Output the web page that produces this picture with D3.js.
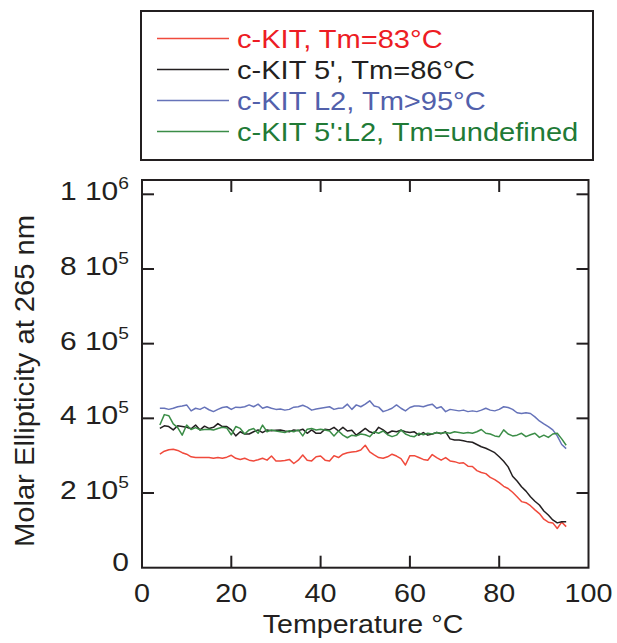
<!DOCTYPE html>
<html lang="en">
<head>
  <meta charset="UTF-8">
  <title>c-KIT melting curves</title>
  <script src="https://d3js.org/d3.v7.min.js"></script>
  <style>
    body { margin: 0; background: #fff; }
    svg { font-family: Arial, "Liberation Sans", sans-serif; }
    .frame { fill: none; stroke: #231f20; stroke-width: 2; }
    .tick-mark { stroke: #231f20; stroke-width: 2; }
    .line { fill: none; stroke-width: 1.5; stroke-linejoin: round; }
  </style>
</head>
<body>
<script>
  // temperature (°C), one reading per degree
  const temps = [4,5,6,7,8,9,10,11,12,13,14,15,16,17,18,19,20,21,22,23,24,25,26,27,28,29,30,
    31,32,33,34,35,36,37,38,39,40,41,42,43,44,45,46,47,48,49,50,51,52,53,54,55,56,57,58,59,60,
    61,62,63,64,65,66,67,68,69,70,71,72,73,74,75,76,77,78,79,80,81,82,83,84,85,86,87,88,89,90,
    91,92,93,94,95];

  // molar ellipticity at 265 nm, in units of 10^5
  const cKit = [3.04,3.12,3.16,3.17,3.14,3.08,3.04,2.97,2.95,2.95,2.95,2.95,2.93,2.95,2.93,2.96,3.01,
    2.93,2.90,2.93,2.88,2.86,2.89,2.93,2.88,2.99,2.86,2.86,2.87,2.90,2.79,2.88,3.02,2.88,2.86,2.97,
    2.99,2.88,2.86,3.00,2.95,3.04,3.08,3.10,3.11,3.15,3.28,3.10,3.02,2.95,2.93,2.97,3.04,2.99,2.92,
    2.75,3.00,3.00,2.95,2.90,2.88,3.03,2.95,2.88,2.95,2.86,2.84,2.80,2.81,2.72,2.71,2.60,2.55,2.52,
    2.42,2.36,2.28,2.18,2.12,2.02,1.90,1.77,1.74,1.66,1.55,1.45,1.30,1.22,1.20,1.05,1.22,1.10];

  const cKit5 = [3.73,3.80,3.78,3.69,3.80,3.78,3.76,3.72,3.82,3.69,3.79,3.73,3.76,3.86,3.78,3.78,3.69,
    3.53,3.64,3.58,3.58,3.64,3.69,3.62,3.69,3.67,3.68,3.69,3.66,3.64,3.69,3.67,3.71,3.60,3.69,3.60,
    3.60,3.71,3.69,3.76,3.66,3.76,3.66,3.68,3.55,3.64,3.73,3.64,3.60,3.76,3.69,3.60,3.66,3.64,3.68,
    3.64,3.62,3.64,3.55,3.62,3.55,3.58,3.62,3.59,3.64,3.45,3.42,3.42,3.40,3.37,3.36,3.30,3.24,3.20,
    3.14,3.08,2.97,2.85,2.70,2.45,2.32,2.17,2.05,1.90,1.78,1.68,1.52,1.41,1.28,1.20,1.23,1.23];

  const cKitL2 = [4.27,4.27,4.24,4.27,4.31,4.33,4.36,4.20,4.27,4.24,4.30,4.23,4.18,4.24,4.29,4.31,4.24,
    4.30,4.29,4.31,4.36,4.31,4.38,4.27,4.31,4.27,4.24,4.25,4.22,4.24,4.30,4.31,4.35,4.30,4.22,4.25,
    4.27,4.29,4.31,4.24,4.27,4.28,4.38,4.24,4.36,4.31,4.38,4.47,4.33,4.30,4.18,4.22,4.27,4.36,4.27,
    4.20,4.29,4.33,4.33,4.31,4.35,4.38,4.27,4.31,4.18,4.24,4.22,4.20,4.22,4.18,4.20,4.18,4.22,4.27,
    4.22,4.20,4.24,4.31,4.29,4.24,4.15,4.13,4.15,4.13,4.04,3.93,3.85,3.78,3.69,3.53,3.30,3.19];

  const cKit5L2 = [3.82,4.10,4.07,3.85,3.75,3.55,3.82,3.70,3.75,3.69,3.70,3.71,3.69,3.73,3.76,3.74,3.56,
    3.78,3.73,3.58,3.69,3.73,3.60,3.82,3.64,3.69,3.66,3.64,3.62,3.67,3.64,3.69,3.53,3.71,3.73,3.69,
    3.71,3.69,3.66,3.53,3.66,3.55,3.48,3.55,3.53,3.58,3.56,3.51,3.64,3.60,3.66,3.56,3.51,3.55,3.69,
    3.58,3.53,3.51,3.60,3.56,3.60,3.58,3.62,3.60,3.62,3.60,3.64,3.62,3.60,3.62,3.60,3.64,3.70,3.60,
    3.58,3.53,3.51,3.69,3.58,3.53,3.55,3.60,3.51,3.56,3.60,3.49,3.55,3.49,3.58,3.60,3.45,3.28];

  const legendLabels = ["c-KIT, Tm=83°C", "c-KIT 5', Tm=86°C", "c-KIT L2, Tm>95°C", "c-KIT 5':L2, Tm=undefined"];
  const lineColors = ["#f04a3c", "#231f20", "#6673b9", "#3b8d47"];
  const textColors = ["#ed1c24", "#231f20", "#5260ab", "#217a36"];

  const xTicks = [0, 20, 40, 60, 80, 100];
  const yTicks = [0, 2, 4, 6, 8, 10];          // x 10^5
  const yTickMant = ["0", "2", "4", "6", "8", "1"];
  const yTickExp = ["", "5", "5", "5", "5", "6"];

  const series = [cKit, cKit5, cKitL2, cKit5L2];

  // plot area
  const plotL = 142, plotR = 588.5, plotT = 180, plotB = 567.7;
  const W = 617, H = 643;

  const x = d3.scaleLinear().domain([0, 100]).range([plotL, plotR]);
  const y = d3.scaleLinear().domain([0, 10]).range([plotB, 194.3]);

  const svg = d3.select('body').append('svg')
    .attr('width', W).attr('height', H);

  // legend box
  const lg = svg.append('g');
  lg.append('rect').attr('class', 'frame')
    .attr('x', 141).attr('y', 11).attr('width', 452).attr('height', 149);
  legendLabels.forEach((lab, i) => {
    const cy = 38.5 + i * 31;
    lg.append('line')
      .attr('x1', 157).attr('x2', 229).attr('y1', cy).attr('y2', cy)
      .attr('stroke', lineColors[i]).attr('stroke-width', 1.3);
    lg.append('text')
      .attr('transform', `translate(237,${cy + 9}) scale(1.14,1)`)
      .attr('font-size', 25.5)
      .attr('fill', textColors[i])
      .text(lab);
  });

  // data lines
  const line = d3.line()
    .x((d, i) => x(temps[i]))
    .y(d => y(d));

  svg.selectAll('.line')
    .data(series)
    .enter().append('path')
    .attr('class', 'line')
    .attr('stroke', (d, i) => lineColors[i])
    .attr('d', line);

  // frame
  svg.append('rect').attr('class', 'frame')
    .attr('x', plotL).attr('y', plotT)
    .attr('width', plotR - plotL).attr('height', plotB - plotT);

  // inward ticks on all four sides
  const tl = 12;
  const axes = svg.append('g');
  xTicks.slice(1, -1).forEach(t => {
    axes.append('line').attr('class', 'tick-mark')
      .attr('x1', x(t)).attr('x2', x(t)).attr('y1', plotB).attr('y2', plotB - tl);
    axes.append('line').attr('class', 'tick-mark')
      .attr('x1', x(t)).attr('x2', x(t)).attr('y1', plotT).attr('y2', plotT + tl);
  });
  yTicks.slice(1).forEach(t => {
    axes.append('line').attr('class', 'tick-mark')
      .attr('x1', plotL).attr('x2', plotL + tl).attr('y1', y(t)).attr('y2', y(t));
    axes.append('line').attr('class', 'tick-mark')
      .attr('x1', plotR).attr('x2', plotR - tl).attr('y1', y(t)).attr('y2', y(t));
  });

  // x tick labels
  axes.selectAll('.xlab')
    .data(xTicks)
    .enter().append('text')
    .attr('transform', d => `translate(${x(d)},${plotB + 34}) scale(1.15,1)`)
    .attr('text-anchor', 'middle')
    .attr('font-size', 25).attr('fill', '#231f20')
    .text(d => d);

  // y tick labels: mantissa + 10 with superscript exponent
  yTicks.forEach((t, i) => {
    const tx = axes.append('text')
      .attr('transform', `translate(129,${y(t) + (i === 0 ? 3 : 6)}) scale(1.2,1)`)
      .attr('text-anchor', 'end')
      .attr('font-size', 25).attr('fill', '#231f20');
    if (i === 0) {
      tx.text(yTickMant[i]);
    } else {
      tx.append('tspan').text(yTickMant[i] + ' 10');
      tx.append('tspan').attr('font-size', 16).attr('dy', -11).text(yTickExp[i]);
    }
  });

  // axis titles
  svg.append('text')
    .attr('transform', 'translate(363,633) scale(1.1,1)')
    .attr('text-anchor', 'middle')
    .attr('font-size', 26).attr('fill', '#231f20')
    .text('Temperature °C');

  svg.append('text')
    .attr('transform', 'translate(34,381) rotate(-90) scale(1.08,1)')
    .attr('text-anchor', 'middle')
    .attr('font-size', 27).attr('fill', '#231f20')
    .text('Molar Ellipticity at 265 nm');
</script>
</body>
</html>
